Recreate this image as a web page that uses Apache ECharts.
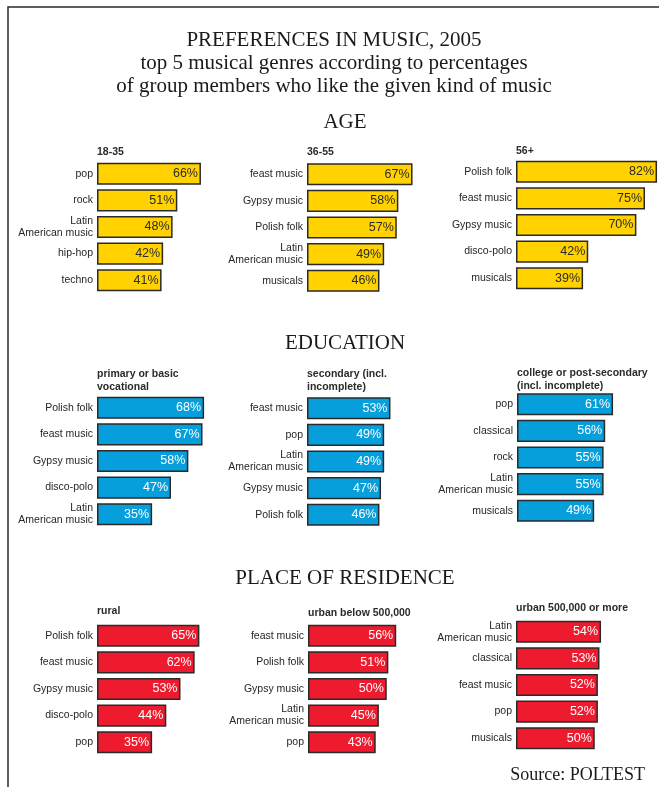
<!DOCTYPE html>
<html>
<head>
<meta charset="utf-8">
<script src="https://cdn.jsdelivr.net/npm/echarts@6/dist/echarts.min.js"></script>
<style>
  html, body { margin: 0; padding: 0; background: #fff; }
  #chart { width: 659px; height: 787px; }
</style>
</head>
<body>
<div id="chart"></div>
<script>
// Top 5 genres per group (percent of group members who like the genre)
const age1835Genres = ['pop', 'rock', 'Latin\nAmerican music', 'hip-hop', 'techno'];
const age1835Values = [66, 51, 48, 42, 41];
const age3655Genres = ['feast music', 'Gypsy music', 'Polish folk', 'Latin\nAmerican music', 'musicals'];
const age3655Values = [67, 58, 57, 49, 46];
const age56Genres = ['Polish folk', 'feast music', 'Gypsy music', 'disco-polo', 'musicals'];
const age56Values = [82, 75, 70, 42, 39];

const eduPrimaryGenres = ['Polish folk', 'feast music', 'Gypsy music', 'disco-polo', 'Latin\nAmerican music'];
const eduPrimaryValues = [68, 67, 58, 47, 35];
const eduSecondaryGenres = ['feast music', 'pop', 'Latin\nAmerican music', 'Gypsy music', 'Polish folk'];
const eduSecondaryValues = [53, 49, 49, 47, 46];
const eduCollegeGenres = ['pop', 'classical', 'rock', 'Latin\nAmerican music', 'musicals'];
const eduCollegeValues = [61, 56, 55, 55, 49];

const resRuralGenres = ['Polish folk', 'feast music', 'Gypsy music', 'disco-polo', 'pop'];
const resRuralValues = [65, 62, 53, 44, 35];
const resSmallCityGenres = ['feast music', 'Polish folk', 'Gypsy music', 'Latin\nAmerican music', 'pop'];
const resSmallCityValues = [56, 51, 50, 45, 43];
const resBigCityGenres = ['Latin\nAmerican music', 'classical', 'feast music', 'pop', 'musicals'];
const resBigCityValues = [54, 53, 52, 52, 50];

const panelTitles = [
  '18-35', '36-55', '56+',
  'primary or basic\nvocational', 'secondary (incl.\nincomplete)', 'college or post-secondary\n(incl. incomplete)',
  'rural', 'urban below 500,000', 'urban 500,000 or more'
];
const sectionTitles = ['AGE', 'EDUCATION', 'PLACE OF RESIDENCE'];
const mainTitleLines = [
  'PREFERENCES IN MUSIC, 2005',
  'top 5 musical genres according to percentages',
  'of group members who like the given kind of music'
];
const sourceText = 'Source: POLTEST';

const YELLOW = '#ffd200';
const BLUE = '#069fdb';
const RED = '#ee1b2f';

// Layout of the nine small panels
const panels = [
  { genres: age1835Genres, values: age1835Values, color: YELLOW, text: '#2b2b2b', left: 97, top: 160.5, width: 157.5, titleY: 152 },
  { genres: age3655Genres, values: age3655Values, color: YELLOW, text: '#2b2b2b', left: 307, top: 161, width: 157.5, titleY: 152 },
  { genres: age56Genres, values: age56Values, color: YELLOW, text: '#2b2b2b', left: 516, top: 158.5, width: 172, titleY: 151 },
  { genres: eduPrimaryGenres, values: eduPrimaryValues, color: BLUE, text: '#ffffff', left: 97, top: 394.5, width: 157.5, titleY: 380.5 },
  { genres: eduSecondaryGenres, values: eduSecondaryValues, color: BLUE, text: '#ffffff', left: 307, top: 395, width: 157.5, titleY: 380.5 },
  { genres: eduCollegeGenres, values: eduCollegeValues, color: BLUE, text: '#ffffff', left: 517, top: 391, width: 157.5, titleY: 379.5 },
  { genres: resRuralGenres, values: resRuralValues, color: RED, text: '#ffffff', left: 97, top: 622.5, width: 157.5, titleY: 611 },
  { genres: resSmallCityGenres, values: resSmallCityValues, color: RED, text: '#ffffff', left: 308, top: 622.5, width: 157.5, titleY: 613 },
  { genres: resBigCityGenres, values: resBigCityValues, color: RED, text: '#ffffff', left: 516, top: 618.5, width: 157.5, titleY: 608 }
];
const PANEL_HEIGHT = 133;

const grid = [], xAxis = [], yAxis = [], series = [];
panels.forEach((p, i) => {
  grid.push({ left: p.left, top: p.top, width: p.width, height: PANEL_HEIGHT,
    containLabel: false, outerBoundsMode: 'none' });
  xAxis.push({ type: 'value', gridIndex: i, min: 0, max: 100, show: false });
  yAxis.push({
    type: 'category', gridIndex: i, inverse: true, data: p.genres,
    axisLine: { show: false }, axisTick: { show: false }, splitLine: { show: false },
    axisLabel: {
      margin: 4, color: '#262626', fontFamily: 'Liberation Sans, Arial, sans-serif',
      fontSize: 10.5, lineHeight: 12, align: 'right'
    }
  });
  series.push({
    type: 'bar', xAxisIndex: i, yAxisIndex: i, data: p.values,
    barCategoryGap: '17%', silent: true, animation: false,
    itemStyle: { color: p.color, borderColor: '#2a2a2a', borderWidth: 1.5 },
    label: {
      show: true, position: 'insideRight', distance: 3,
      formatter: '{c}%', color: p.text,
      fontFamily: 'Liberation Sans, Arial, sans-serif', fontSize: 12.5
    }
  });
});

// Texts: headings, panel titles, source and frame
const graphic = [];
const serif = '"Liberation Serif", "Times New Roman", serif';
mainTitleLines.forEach((t, i) => {
  graphic.push({ type: 'text', x: 334, y: 40 + i * 23,
    style: { text: t, font: '21px ' + serif, fill: '#1a1a1a', align: 'center', verticalAlign: 'middle' } });
});
[122, 343, 578].forEach((y, i) => {
  graphic.push({ type: 'text', x: 345, y: y,
    style: { text: sectionTitles[i], font: '21px ' + serif, fill: '#1a1a1a', align: 'center', verticalAlign: 'middle' } });
});
panels.forEach((p, i) => {
  graphic.push({ type: 'text', x: p.left, y: p.titleY,
    style: { text: panelTitles[i], font: 'bold 10.5px "Liberation Sans", Arial, sans-serif', fill: '#2b2b2b',
      align: 'left', verticalAlign: 'middle', lineHeight: 13 } });
});
graphic.push({ type: 'text', x: 645, y: 775,
  style: { text: sourceText, font: '18px ' + serif, fill: '#1a1a1a', align: 'right', verticalAlign: 'middle' } });
graphic.push({ type: 'polyline', shape: { points: [[8, 787], [8, 7], [659, 7]] },
  style: { stroke: '#2a2a2a', lineWidth: 1.5, fill: null } });

const chart = echarts.init(document.getElementById('chart'), null, { renderer: 'canvas' });
chart.setOption({ animation: false, backgroundColor: '#ffffff', grid, xAxis, yAxis, series, graphic });
</script>
</body>
</html>
